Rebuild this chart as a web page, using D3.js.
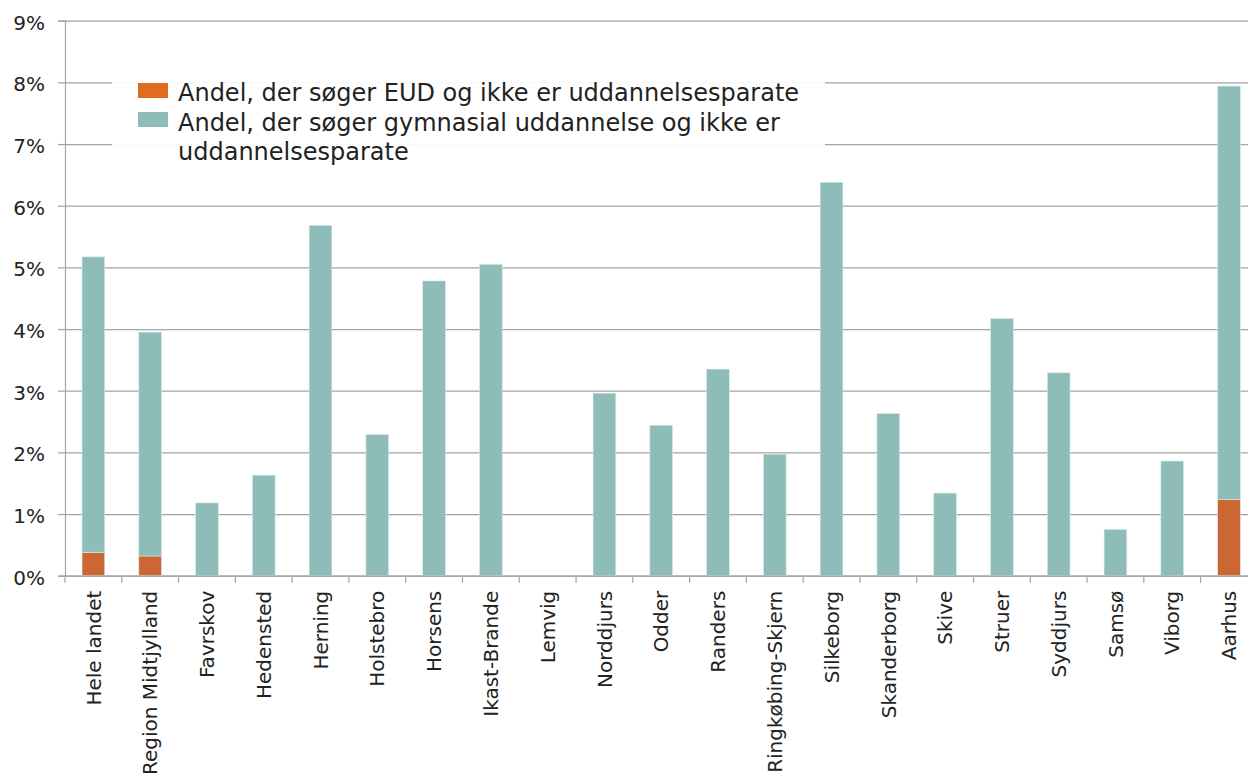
<!DOCTYPE html>
<html>
<head>
<meta charset="utf-8">
<script src="https://cdn.jsdelivr.net/npm/d3@7"></script>
<style>
  body { margin: 0; background: #fff; }
  svg { display: block; font-family: "DejaVu Sans", Verdana, sans-serif; }
</style>
</head>
<body>
<div id="chart"></div>
<script>
// kommuner / områder
var categories = ["Hele landet", "Region Midtjylland", "Favrskov", "Hedensted", "Herning",
  "Holstebro", "Horsens", "Ikast-Brande", "Lemvig", "Norddjurs", "Odder", "Randers",
  "Ringkøbing-Skjern", "Silkeborg", "Skanderborg", "Skive", "Struer", "Syddjurs",
  "Samsø", "Viborg", "Aarhus"];

// Andel, der søger EUD og ikke er uddannelsesparate (%)
var eud = [0.38, 0.32, 0, 0, 0, 0, 0, 0, 0, 0, 0, 0, 0, 0, 0, 0, 0, 0, 0, 0, 1.24];

// Andel, der søger gymnasial uddannelse og ikke er uddannelsesparate (%)
var gym = [4.79, 3.63, 1.18, 1.63, 5.68, 2.29, 4.78, 5.05, 0, 2.96, 2.44, 3.35,
  1.97, 6.38, 2.63, 1.34, 4.17, 3.29, 0.75, 1.86, 6.70];

var yTicks = [0, 1, 2, 3, 4, 5, 6, 7, 8, 9];

var seriesNames = ["Andel, der søger EUD og ikke er uddannelsesparate",
  "Andel, der søger gymnasial uddannelse og ikke er uddannelsesparate"];

var svgWidth = 1248;
var svgHeight = 779;

var margin = { top: 20.7, left: 65 };
var plotRight = 1257.4;
var plotBottom = 575.7;

var colEud = "#cc6633";
var colEudLegend = "#e06c1e";
var colGym = "#8dbcb9";
var gridCol = "#a3a3a3";

var svg = d3.select("#chart")
  .append("svg")
  .attr("width", svgWidth)
  .attr("height", svgHeight);

var x = d3.scaleBand()
  .domain(categories)
  .range([margin.left, plotRight])
  .paddingInner(0)
  .paddingOuter(0);

var y = d3.scaleLinear()
  .domain([0, 9])
  .range([plotBottom, margin.top]);

// gridlines
svg.append("g")
  .attr("class", "grid")
  .attr("transform", `translate(${margin.left},0)`)
  .call(d3.axisLeft(y).tickValues(yTicks).tickSize(-(plotRight - margin.left)).tickFormat(""))
  .call(g => g.select(".domain").remove())
  .call(g => g.selectAll("line").attr("stroke", gridCol).attr("stroke-width", 1.2));

// stacked bars
var rows = categories.map(function(c, i) {
  return { cat: c, eud: eud[i], gym: gym[i] };
});
var stack = d3.stack().keys(["eud", "gym"])(rows);
var barW = x.bandwidth() * 0.4;

svg.append("g")
  .selectAll("g")
  .data(stack)
  .enter()
  .append("g")
  .attr("fill", d => d.key === "eud" ? colEud : colGym)
  .selectAll("rect")
  .data(d => d.filter(p => p[1] - p[0] > 0))
  .enter()
  .append("rect")
  .attr("x", d => x(d.data.cat) + x.bandwidth() / 2 - barW / 2)
  .attr("width", barW)
  .attr("y", d => y(d[1]))
  .attr("height", d => y(d[0]) - y(d[1]))
  .attr("stroke", "#d6ebe9")
  .attr("stroke-width", 0.6);

// y axis
svg.append("g")
  .attr("transform", `translate(${margin.left},0)`)
  .call(d3.axisLeft(y).tickValues(yTicks).tickSize(7).tickPadding(13).tickFormat(d => d + "%"))
  .call(g => g.select(".domain").attr("stroke", gridCol).attr("stroke-width", 1.2))
  .call(g => g.selectAll("line").attr("stroke", gridCol).attr("stroke-width", 1.2))
  .call(g => g.selectAll("text")
    .attr("font-size", "20px")
    .attr("fill", "#222")
    .attr("dy", "0.42em")
    .attr("font-family", "DejaVu Sans, Verdana, sans-serif"));

// x axis
var xAxisG = svg.append("g")
  .attr("transform", `translate(0,${plotBottom})`)
  .call(d3.axisBottom(x).tickSize(0).tickSizeOuter(0))
  .call(g => g.select(".domain").attr("stroke", gridCol).attr("stroke-width", 1.2));

xAxisG.selectAll("text")
  .attr("transform", "rotate(-90)")
  .attr("x", -15)
  .attr("y", 0)
  .attr("dy", "0.36em")
  .style("text-anchor", "end")
  .attr("font-size", "20px")
  .attr("fill", "#222")
  .attr("font-family", "DejaVu Sans, Verdana, sans-serif");

// tick marks between the categories
xAxisG.selectAll(".sep")
  .data(categories)
  .enter()
  .append("line")
  .attr("class", "sep")
  .attr("x1", d => x(d))
  .attr("x2", d => x(d))
  .attr("y1", 0)
  .attr("y2", 7)
  .attr("stroke", gridCol)
  .attr("stroke-width", 1.2);

// legend
var legend = svg.append("g");

legend.append("rect")
  .attr("x", 112)
  .attr("y", 80)
  .attr("width", 713)
  .attr("height", 66)
  .attr("fill", "#fff")
  .attr("fill-opacity", 0.93);

legend.append("rect")
  .attr("x", 138).attr("y", 83)
  .attr("width", 30).attr("height", 15)
  .attr("fill", colEudLegend);

legend.append("rect")
  .attr("x", 138).attr("y", 112)
  .attr("width", 30).attr("height", 15)
  .attr("fill", colGym);

var legendLines = [
  { text: seriesNames[0], y: 101 },
  { text: "Andel, der søger gymnasial uddannelse og ikke er", y: 130.5 },
  { text: "uddannelsesparate", y: 160 }
];

legend.selectAll("text.lg")
  .data(legendLines)
  .enter()
  .append("text")
  .attr("class", "lg")
  .attr("x", 178)
  .attr("y", d => d.y)
  .attr("font-size", "24px")
  .attr("fill", "#222")
  .text(d => d.text);
</script>
</body>
</html>
